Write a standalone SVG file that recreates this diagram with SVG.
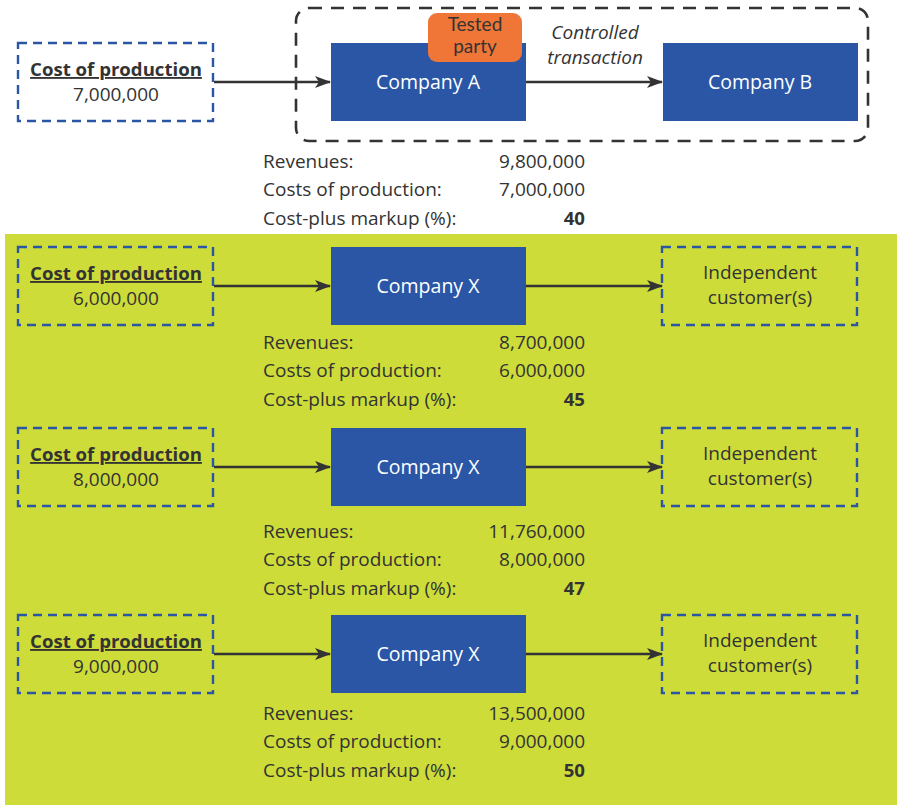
<svg xmlns="http://www.w3.org/2000/svg" width="899" height="805" viewBox="0 0 899 805">
<defs>
<marker id="arr" markerWidth="16" markerHeight="12" refX="15" refY="6" orient="auto" markerUnits="userSpaceOnUse">
<path d="M0,0 L16,6 L0,12 L4,6 Z" fill="#333333"/>
</marker>
<style>
text{font-family:"Open Sans","Noto Sans",sans-serif;fill:#333333;font-size:19px}
.c{text-anchor:middle}
.r{text-anchor:end}
.b{font-weight:bold;font-size:18.6px}
.u{text-decoration:underline}
.w{fill:#ffffff;font-size:19.5px}
.i{font-style:italic}
.t{font-family:Lato,"Open Sans",sans-serif;font-size:19px}
.co{fill:#2a56a5}
.dash{fill:none;stroke:#2a56a5;stroke-width:2.4;stroke-dasharray:9 6}
.conn{stroke:#333333;stroke-width:2.4;fill:none;marker-end:url(#arr)}
</style>
</defs>
<rect x="5" y="234" width="892" height="571" fill="#cddc39"/>
<rect x="296" y="8" width="572" height="133" rx="13" fill="none" stroke="#333333" stroke-width="2.6" stroke-dasharray="13 9"/>

<g id="connectors">
<line class="conn" x1="214" y1="82" x2="330" y2="82"/>
<line class="conn" x1="526" y1="82" x2="662" y2="82"/>
<line class="conn" x1="214" y1="286" x2="330" y2="286"/>
<line class="conn" x1="526" y1="286" x2="662" y2="286"/>
<line class="conn" x1="214" y1="467" x2="330" y2="467"/>
<line class="conn" x1="526" y1="467" x2="662" y2="467"/>
<line class="conn" x1="214" y1="654" x2="330" y2="654"/>
<line class="conn" x1="526" y1="654" x2="662" y2="654"/>
</g>

<g id="cost0">
<rect class="dash" x="18" y="43" width="195" height="78"/>
<text class="c b u" x="116" y="76">Cost of production</text>
<text class="c" x="116" y="101">7,000,000</text>
</g>
<g id="companyA">
<rect class="co" x="331" y="43" width="195" height="78"/>
<text class="c w" x="428" y="89">Company A</text>
</g>
<g id="tested">
<rect x="428" y="13" width="94" height="49" rx="9" fill="#f07637"/>
<text class="c t" x="475" y="31">Tested</text>
<text class="c t" x="475" y="53">party</text>
</g>
<g id="label-controlled">
<text class="c i" x="595" y="39">Controlled</text>
<text class="c i" x="595" y="64">transaction</text>
</g>
<g id="companyB">
<rect class="co" x="663" y="43" width="195" height="78"/>
<text class="c w" x="760" y="89">Company B</text>
</g>
<g id="table0">
<text x="263" y="168">Revenues:</text>
<text x="263" y="196">Costs of production:</text>
<text x="263" y="225">Cost-plus markup (%):</text>
<text class="r" x="585" y="168">9,800,000</text>
<text class="r" x="585" y="196">7,000,000</text>
<text class="r b" x="585" y="225">40</text>
</g>

<g id="cost1">
<rect class="dash" x="18" y="247" width="195" height="78"/>
<text class="c b u" x="116" y="280">Cost of production</text>
<text class="c" x="116" y="305">6,000,000</text>
</g>
<g id="companyX1">
<rect class="co" x="331" y="247" width="195" height="78"/>
<text class="c w" x="428" y="293">Company X</text>
</g>
<g id="cust1">
<rect class="dash" x="662" y="247" width="195" height="78"/>
<text class="c" x="760" y="279">Independent</text>
<text class="c" x="760" y="304">customer(s)</text>
</g>
<g id="table1">
<text x="263" y="349">Revenues:</text>
<text x="263" y="377">Costs of production:</text>
<text x="263" y="406">Cost-plus markup (%):</text>
<text class="r" x="585" y="349">8,700,000</text>
<text class="r" x="585" y="377">6,000,000</text>
<text class="r b" x="585" y="406">45</text>
</g>

<g id="cost2">
<rect class="dash" x="18" y="428" width="195" height="78"/>
<text class="c b u" x="116" y="461">Cost of production</text>
<text class="c" x="116" y="486">8,000,000</text>
</g>
<g id="companyX2">
<rect class="co" x="331" y="428" width="195" height="78"/>
<text class="c w" x="428" y="474">Company X</text>
</g>
<g id="cust2">
<rect class="dash" x="662" y="428" width="195" height="78"/>
<text class="c" x="760" y="460">Independent</text>
<text class="c" x="760" y="485">customer(s)</text>
</g>
<g id="table2">
<text x="263" y="538">Revenues:</text>
<text x="263" y="566">Costs of production:</text>
<text x="263" y="595">Cost-plus markup (%):</text>
<text class="r" x="585" y="538">11,760,000</text>
<text class="r" x="585" y="566">8,000,000</text>
<text class="r b" x="585" y="595">47</text>
</g>

<g id="cost3">
<rect class="dash" x="18" y="615" width="195" height="78"/>
<text class="c b u" x="116" y="648">Cost of production</text>
<text class="c" x="116" y="673">9,000,000</text>
</g>
<g id="companyX3">
<rect class="co" x="331" y="615" width="195" height="78"/>
<text class="c w" x="428" y="661">Company X</text>
</g>
<g id="cust3">
<rect class="dash" x="662" y="615" width="195" height="78"/>
<text class="c" x="760" y="647">Independent</text>
<text class="c" x="760" y="672">customer(s)</text>
</g>
<g id="table3">
<text x="263" y="720">Revenues:</text>
<text x="263" y="748">Costs of production:</text>
<text x="263" y="777">Cost-plus markup (%):</text>
<text class="r" x="585" y="720">13,500,000</text>
<text class="r" x="585" y="748">9,000,000</text>
<text class="r b" x="585" y="777">50</text>
</g>
</svg>
